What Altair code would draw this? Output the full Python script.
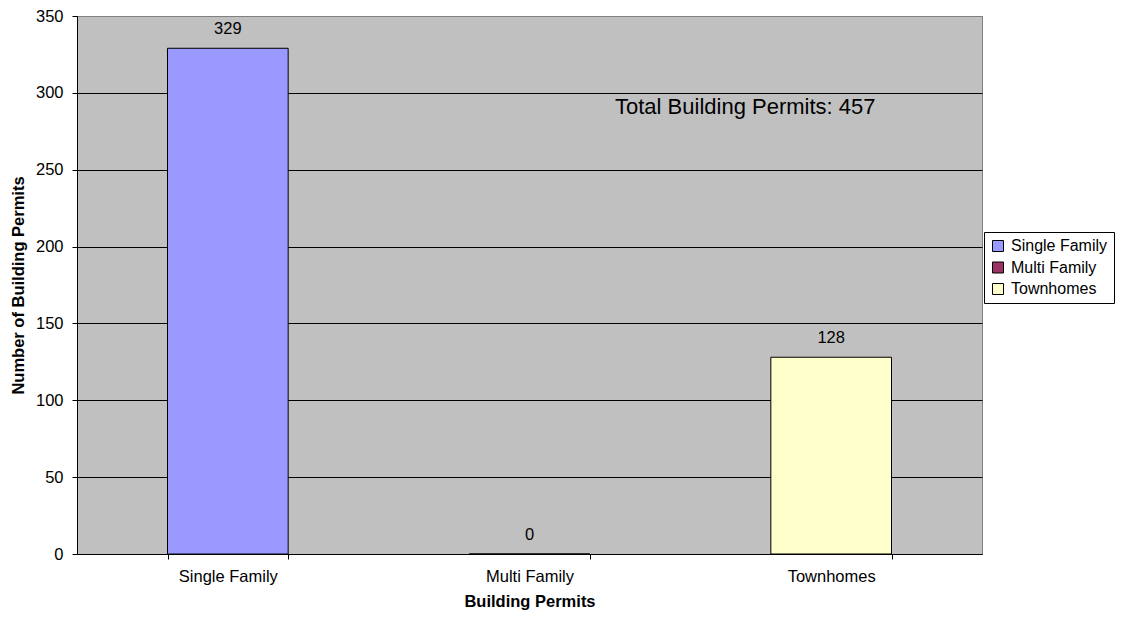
import altair as alt
import pandas as pd

categories = ["Single Family", "Multi Family", "Townhomes"]
values = [329, 0, 128]
colors = ["#9999FF", "#993366", "#FFFFCC"]
total_label = "Total Building Permits: 457"
total_y = 286.5

df = pd.DataFrame({"cat": categories, "val": values})

FONT = "Liberation Sans"
FS = 16.5

x = alt.X("cat:N", sort=categories, title="Building Permits",
          scale=alt.Scale(paddingInner=0.6, paddingOuter=0.3),
          axis=alt.Axis(labelAngle=0, tickBand="extent", grid=False,
                        labelFontSize=FS, titleFontSize=FS, titleFontWeight="bold",
                        labelPadding=9, titlePadding=9, tickSize=5,
                        domainColor="black", tickColor="black", labelColor="black",
                        titleColor="black", labelFont=FONT, titleFont=FONT))
y = alt.Y("val:Q", title="Number of Building Permits",
          scale=alt.Scale(domain=[0, 350]),
          axis=alt.Axis(values=list(range(0, 351, 50)), grid=True,
                        gridColor=alt.condition("datum.value >= 350", alt.value("#808080"), alt.value("black")),
                        gridOpacity=1, labelFontSize=FS, titleFontSize=FS,
                        titleFontWeight="bold", tickSize=5, labelPadding=9,
                        titlePadding=9,
                        domainColor="black", tickColor="black", labelColor="black",
                        titleColor="black", labelFont=FONT, titleFont=FONT))

bars = alt.Chart(df).mark_bar(stroke="black", strokeWidth=1).encode(
    x=x, y=y,
    color=alt.Color("cat:N", sort=categories,
                    scale=alt.Scale(domain=categories, range=colors),
                    legend=alt.Legend(title=None, orient="none", legendX=907, legendY=216,
                                      fillColor="white", strokeColor="black", padding=6,
                                      symbolType="square", symbolSize=121,
                                      symbolStrokeColor="black", symbolStrokeWidth=1,
                                      labelFontSize=16, labelFont=FONT, labelColor="black",
                                      rowPadding=5.5, symbolOffset=0, labelOffset=5))
)

labels = alt.Chart(df).mark_text(dy=-14, fontSize=FS, font=FONT, color="black",
                                 baseline="alphabetic").encode(
    x=alt.X("cat:N", sort=categories), y="val:Q", text="val:Q")

tdf = pd.DataFrame({"t": [total_label], "yv": [total_y]})
total = alt.Chart(tdf).mark_text(fontSize=22, font=FONT, color="black", align="left",
                                 baseline="alphabetic").encode(
    x=alt.value(538), y="yv:Q", text="t:N")

chart = alt.layer(bars, labels, total).properties(
    width=905, height=538,
    background="white",
    autosize=alt.AutoSizeParams(type="none"),
    padding={"left": 69, "top": 8, "right": 135, "bottom": 57},
).configure_view(fill="#C0C0C0", stroke="#808080")

chart.save("out.html", embed_options={"renderer": "svg", "actions": False})
